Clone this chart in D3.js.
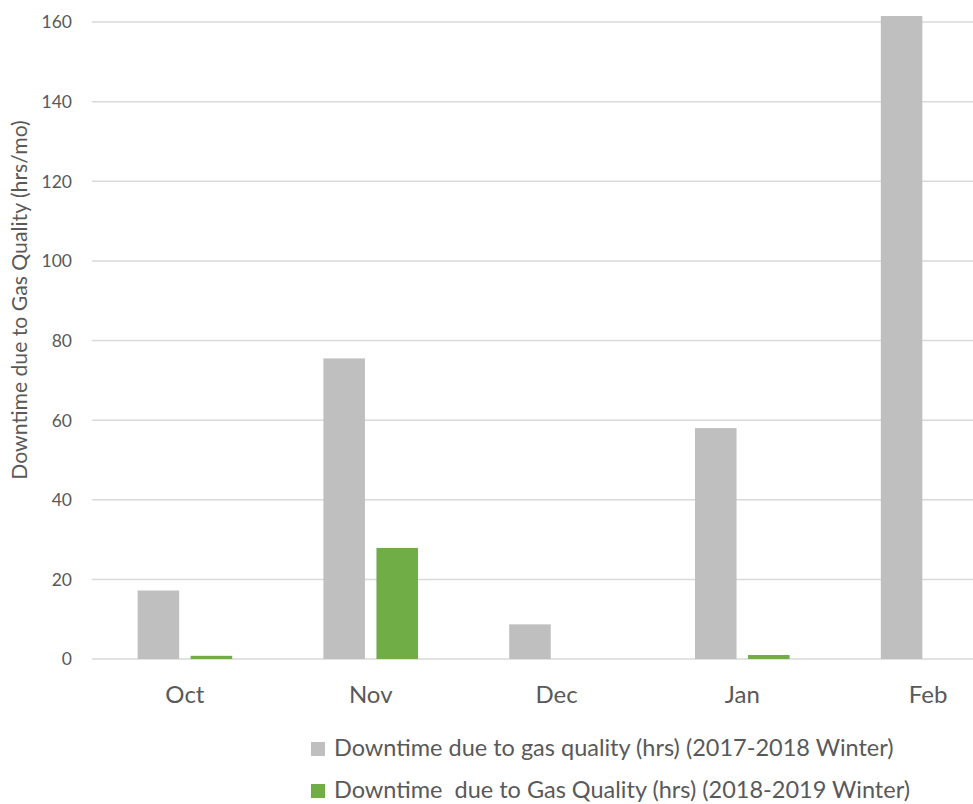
<!DOCTYPE html>
<html>
<head>
<meta charset="utf-8">
<script src="https://cdn.jsdelivr.net/npm/d3@7"></script>
<style>
  html, body { margin: 0; padding: 0; background: #ffffff; overflow: hidden; }
  svg { display: block; }
  text { font-family: Lato, "Open Sans", sans-serif; fill: #595959; }
</style>
</head>
<body>
<svg id="chart" width="973" height="804"></svg>
<script>
// ---- data ----
const categories = ["Oct", "Nov", "Dec", "Jan", "Feb"];
const winter1718 = [17.2, 75.5, 8.7, 58, 161.5];
const winter1819 = [0.8, 27.9, 0, 1, 0];
const seriesNames = [
  "Downtime due to gas quality (hrs) (2017-2018 Winter)",
  "Downtime  due to Gas Quality (hrs) (2018-2019 Winter)"
];
const yTicks = [0, 20, 40, 60, 80, 100, 120, 140, 160];
const yTitle = "Downtime due to Gas Quality (hrs/mo)";

// ---- layout ----
const W = 973, H = 804;
const plot = { left: 92, right: 1021, top: 22, bottom: 659 };
const colors = ["#bfbfbf", "#70ad47"];

const svg = d3.select("#chart");

const x = d3.scaleBand()
  .domain(categories)
  .range([plot.left, plot.right])
  .paddingInner(0.491)
  .paddingOuter(0.2455);

const xSub = d3.scaleBand()
  .domain([0, 1])
  .range([0, x.bandwidth()])
  .paddingInner(0.217)
  .paddingOuter(0);

const y = d3.scaleLinear()
  .domain([0, 160])
  .range([plot.bottom, plot.top]);

// gridlines
svg.append("g")
  .selectAll("line")
  .data(yTicks)
  .join("line")
  .attr("x1", plot.left)
  .attr("x2", W)
  .attr("y1", d => y(d))
  .attr("y2", d => y(d))
  .attr("stroke", "#d9d9d9")
  .attr("stroke-width", 1.5);

// y axis labels
const yAxis = d3.axisLeft(y).tickValues(yTicks).tickSize(0).tickPadding(0);
const yg = svg.append("g")
  .attr("transform", `translate(72,0)`)
  .call(yAxis);
yg.select(".domain").remove();
yg.selectAll("text")
  .style("font-family", "Lato, sans-serif")
  .style("font-size", "17.5px")
  .attr("fill", "#595959")
  .attr("dy", "0.34em");

// bars
const seriesData = [winter1718, winter1819];
seriesData.forEach((vals, si) => {
  svg.append("g")
    .selectAll("rect")
    .data(vals.map((v, i) => ({ cat: categories[i], v })))
    .join("rect")
    .attr("x", d => x(d.cat) + xSub(si))
    .attr("width", xSub.bandwidth())
    .attr("y", d => y(d.v))
    .attr("height", d => y(0) - y(d.v))
    .attr("fill", colors[si]);
});

// x axis labels
const xAxis = d3.axisBottom(x).tickSize(0).tickPadding(0);
const xg = svg.append("g")
  .attr("transform", `translate(0,${plot.bottom})`)
  .call(xAxis);
xg.select(".domain").remove();
xg.selectAll("text")
  .style("font-family", "Lato, sans-serif")
  .style("font-size", "24px")
  .attr("fill", "#595959")
  .attr("dy", null)
  .attr("y", 44);

// y axis title
svg.append("text")
  .attr("transform", "translate(27,300) rotate(-90)")
  .attr("text-anchor", "middle")
  .style("font-size", "21.2px")
  .text(yTitle);

// legend
const legendRows = [756, 798];
const lg = svg.append("g");
seriesNames.forEach((name, i) => {
  lg.append("rect")
    .attr("x", 311)
    .attr("y", legendRows[i] - 14)
    .attr("width", 14)
    .attr("height", 14)
    .attr("fill", colors[i]);
  lg.append("text")
    .attr("x", 334)
    .attr("y", legendRows[i])
    .style("font-size", "23.5px")
    .style("white-space", "pre")
    .text(name);
});
</script>
</body>
</html>
